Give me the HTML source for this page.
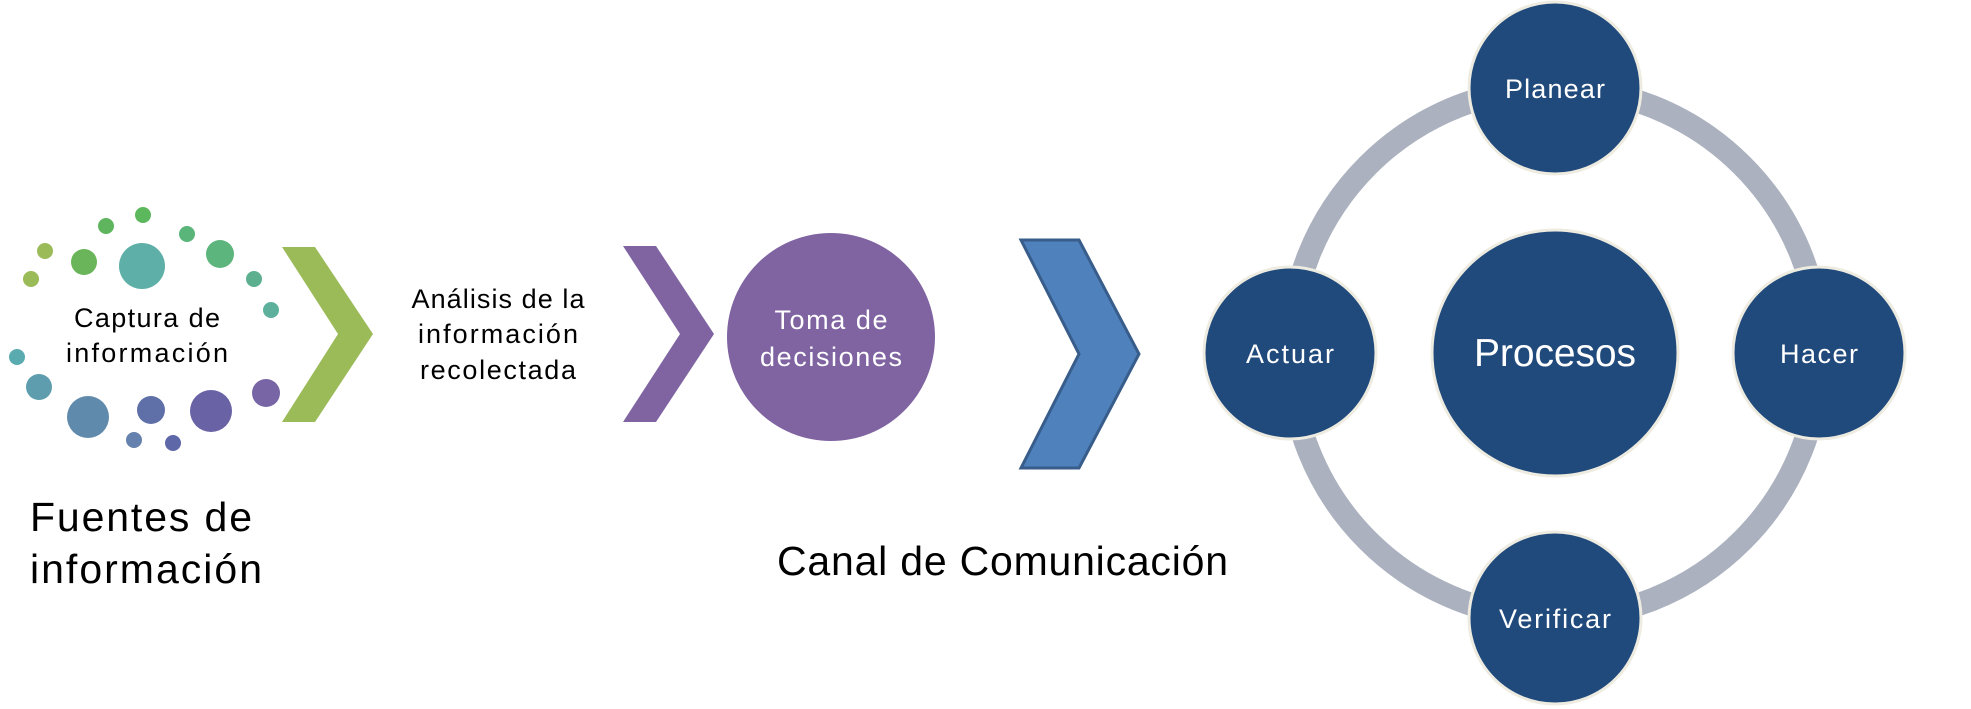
<!DOCTYPE html>
<html><head><meta charset="utf-8"><style>
html,body{margin:0;padding:0;background:#fff}
svg{display:block}
text{font-family:"Liberation Sans",sans-serif}
</style></head><body>
<svg width="1971" height="709" viewBox="0 0 1971 709" xmlns="http://www.w3.org/2000/svg">
<g>
<circle cx="31" cy="279" r="8" fill="#9bbb59"/>
<circle cx="45" cy="251" r="8" fill="#9bbb59"/>
<circle cx="84" cy="262" r="13" fill="#6ab55a"/>
<circle cx="106" cy="226" r="8" fill="#5fb55e"/>
<circle cx="143" cy="215" r="8" fill="#5cb85c"/>
<circle cx="142" cy="266" r="23" fill="#5eafa7"/>
<circle cx="187" cy="234" r="8" fill="#5ab57a"/>
<circle cx="220" cy="254" r="14" fill="#5cb57c"/>
<circle cx="254" cy="279" r="8" fill="#5cb08f"/>
<circle cx="271" cy="310" r="8" fill="#5cb09c"/>
<circle cx="17" cy="357" r="8" fill="#5aabb0"/>
<circle cx="39" cy="387" r="13" fill="#5e9dae"/>
<circle cx="88" cy="417" r="21" fill="#5f8aac"/>
<circle cx="134" cy="440" r="8" fill="#6582ae"/>
<circle cx="151" cy="410" r="14" fill="#5f6fa8"/>
<circle cx="173" cy="443" r="8" fill="#5e68a8"/>
<circle cx="211" cy="411" r="21" fill="#6962a5"/>
<circle cx="266" cy="393" r="14" fill="#7865a5"/>
</g>
<text x="147" y="327" font-size="27" text-anchor="middle" textLength="146">Captura de</text>
<text x="147" y="362" font-size="27" text-anchor="middle" textLength="162">información</text>
<polygon points="282,247 315,247 373,334 315,422 282,422 338,334" fill="#9bbb59"/>
<text x="30" y="531" font-size="41" textLength="222">Fuentes de</text>
<text x="30" y="583" font-size="41" textLength="232">información</text>
<text x="498" y="308" font-size="27" text-anchor="middle" textLength="173">Análisis de la</text>
<text x="498" y="343" font-size="27" text-anchor="middle" textLength="160">información</text>
<text x="498" y="379" font-size="27" text-anchor="middle" textLength="156">recolectada</text>
<polygon points="623,246 656,246 714,334 656,422 623,422 680,334" fill="#8064a2"/>
<circle cx="831" cy="337" r="104" fill="#8064a2"/>
<text x="831" y="329" font-size="27" fill="#fff" text-anchor="middle" textLength="113">Toma de</text>
<text x="831" y="366" font-size="27" fill="#fff" text-anchor="middle" textLength="142">decisiones</text>
<polygon points="1021,240 1079,240 1139,354 1079,468 1021,468 1079,354" fill="#4f81bd" stroke="#385d8a" stroke-width="3"/>
<text x="777" y="575" font-size="41" textLength="451">Canal de Comunicación</text>
<circle cx="1555" cy="353" r="265" fill="none" stroke="#abb1bf" stroke-width="23"/>
<g fill="#214a7c" stroke="#eeece1" stroke-width="3">
<circle cx="1555" cy="88" r="86"/>
<circle cx="1555" cy="618" r="86"/>
<circle cx="1290" cy="353" r="86"/>
<circle cx="1819" cy="353" r="86"/>
<circle cx="1555" cy="353" r="123"/>
</g>
<g fill="#fff" text-anchor="middle" font-size="27">
<text x="1555" y="98" textLength="100">Planear</text>
<text x="1555" y="628" textLength="112">Verificar</text>
<text x="1290" y="363" textLength="88">Actuar</text>
<text x="1819" y="363" textLength="78">Hacer</text>
<text x="1555" y="366" font-size="39" textLength="162">Procesos</text>
</g>
</svg>
</body></html>
